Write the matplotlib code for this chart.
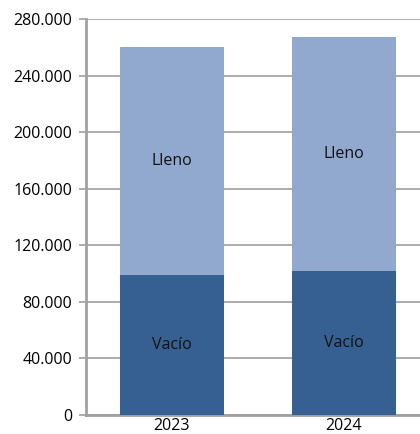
import numpy as np
import matplotlib.pyplot as plt

plt.rcParams['font.family'] = ['Open Sans', 'DejaVu Sans']

years = ['2023', '2024']
vacio = [99000, 102000]
lleno = [161000, 165000]
seg_names = ['Vacío', 'Lleno']
yticks = [0, 40000, 80000, 120000, 160000, 200000, 240000, 280000]
ylabels = ['0', '40.000', '80.000', '120.000', '160.000', '200.000', '240.000', '280.000']

c_dark = '#366092'
c_light = '#91a9cf'
grey = '#a6a6a6'

fig = plt.figure(figsize=(4.2, 4.34), dpi=100)
ax = fig.add_axes([86 / 420, 1 - 415 / 434, 344 / 420, 396 / 434])

x = np.arange(len(years))
ax.bar(x, vacio, width=0.605, color=c_dark, zorder=3)
ax.bar(x, lleno, width=0.605, bottom=vacio, color=c_light, zorder=3)

for i in range(len(years)):
    ax.text(x[i], vacio[i] / 2, seg_names[0], ha='center', va='center',
            fontsize=11.5, color='#111111', zorder=4)
    ax.text(x[i], vacio[i] + lleno[i] / 2, seg_names[1], ha='center', va='center',
            fontsize=11.5, color='#111111', zorder=4)

ax.set_xlim(-0.5, 1.5)
ax.set_ylim(0, 280000)
ax.set_yticks(yticks)
ax.set_yticklabels(ylabels, fontsize=11.5)
ax.set_xticks(x)
ax.set_xticklabels(years, fontsize=11.5)
ax.yaxis.grid(True, color=grey, lw=1.3, zorder=0)
ax.tick_params(axis='y', length=5, width=1.3, color=grey, pad=5)
ax.tick_params(axis='x', length=0, pad=2)

for s in ['top', 'right']:
    ax.spines[s].set_visible(False)
ax.spines['left'].set_color('#a0a0a0')
ax.spines['left'].set_linewidth(2)
ax.spines['bottom'].set_color('#a0a0a0')
ax.spines['bottom'].set_linewidth(2)

fig.savefig('out.png', dpi=100)
